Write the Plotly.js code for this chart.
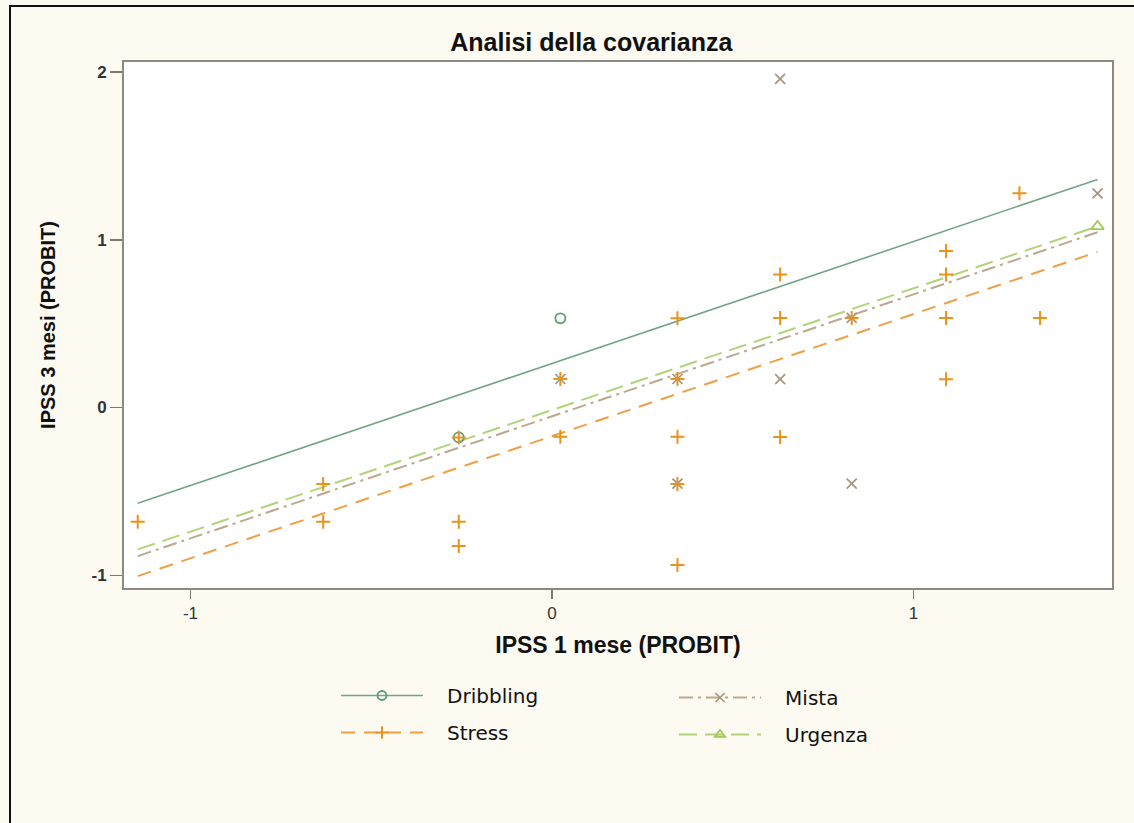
<!DOCTYPE html>
<html>
<head>
<meta charset="utf-8">
<script src="https://cdn.plot.ly/plotly-3.0.1.min.js"></script>
<style>
  html, body { margin: 0; padding: 0; background: #fdfaf2; overflow: hidden; }
  #wrap { position: relative; width: 1134px; height: 823px; }
  #chart { position: absolute; left: 0; top: 0; width: 1134px; height: 823px; }
  #frame { position: absolute; left: 9px; top: 5px; width: 1140px; height: 840px;
           border-top: 2px solid #111; border-left: 2px solid #111; pointer-events: none; }
</style>
</head>
<body>
<div id="wrap"><div id="chart"></div><div id="frame"></div></div>
<script>
// ---- Data (probit scale) ----
const dribblingX = [-0.258, 0.023];
const dribblingY = [-0.178, 0.532];

const stressX = [-1.146, -0.633, -0.633, -0.258, -0.258, -0.258, 0.023, 0.023, 0.347, 0.347, 0.347, 0.347, 0.347, 0.631, 0.631, 0.631, 0.829, 1.090, 1.090, 1.090, 1.090, 1.293, 1.350];
const stressY = [-0.681, -0.456, -0.681, -0.178, -0.681, -0.826, 0.170, -0.174, 0.532, 0.170, -0.174, -0.456, -0.939, 0.793, 0.534, -0.176, 0.534, 0.933, 0.793, 0.534, 0.169, 1.277, 0.534];

const mistaX = [0.023, 0.347, 0.347, 0.631, 0.631, 0.829, 0.829, 1.509];
const mistaY = [0.170, 0.170, -0.454, 1.959, 0.169, 0.534, -0.454, 1.277];

const urgenzaX = [1.509];
const urgenzaY = [1.080];

// fitted (ANCOVA) lines, endpoints
const fitX = [-1.146, 1.509];
const dribblingFit = [-0.571, 1.360];
const stressFit = [-1.005, 0.928];
const mistaFit = [-0.886, 1.045];
const urgenzaFit = [-0.846, 1.080];

const groupNames = ['Dribbling', 'Stress', 'Mista', 'Urgenza'];
const xTicks = [-1, 0, 1];
const yTicks = [-1, 0, 1, 2];

// ---- Styles ----
const C = {
  Dribbling: {line: '#72a585', mark: '#5e9a74', dash: 'solid', sym: 'circle-open', size: 10, lw: 1.8},
  Stress:    {line: '#eea046', mark: '#e8931c', dash: '14px,9px', sym: 'cross-thin', size: 10, lw: 2},
  Mista:     {line: '#b9a98f', mark: '#a8947a', dash: '14px,5px,3px,5px', sym: 'x-thin', size: 10, lw: 1.7},
  Urgenza:   {line: '#b3d27a', mark: '#a3c85a', dash: '18px,8px', sym: 'triangle-up-open', size: 11, lw: 1.8}
};
const legendOf = {Dribbling: 'legend', Stress: 'legend', Mista: 'legend2', Urgenza: 'legend2'};

const pts = {
  Dribbling: [dribblingX, dribblingY, dribblingFit],
  Stress: [stressX, stressY, stressFit],
  Mista: [mistaX, mistaY, mistaFit],
  Urgenza: [urgenzaX, urgenzaY, urgenzaFit]
};

const traces = [];
// fitted lines (drawn first)
['Dribbling', 'Stress', 'Mista', 'Urgenza'].forEach(g => {
  traces.push({
    x: fitX, y: pts[g][2], mode: 'lines', showlegend: false, hoverinfo: 'skip',
    line: {color: C[g].line, width: g === 'Dribbling' ? 1.6 : 2, dash: C[g].dash}
  });
});
// data markers
['Dribbling', 'Mista', 'Stress', 'Urgenza'].forEach(g => {
  traces.push({
    x: pts[g][0], y: pts[g][1], mode: 'markers', showlegend: false, name: g,
    marker: {symbol: C[g].sym, size: C[g].size, color: C[g].mark,
             line: {color: C[g].mark, width: C[g].lw}}
  });
});
// legend entries (line + marker, as in the reference key)
const pad = '\u00a0\u00a0\u00a0';
groupNames.forEach(g => {
  traces.push({
    x: [null], y: [null], mode: 'lines+markers', name: pad + g, legend: legendOf[g],
    legendgroup: g,
    line: {color: C[g].line, width: g === 'Dribbling' ? 1.6 : 2, dash: C[g].dash},
    marker: {symbol: C[g].sym, size: 9, color: C[g].mark,
             line: {color: C[g].mark, width: C[g].lw}}
  });
});

const legendCommon = {
  orientation: 'v', xanchor: 'left', yanchor: 'top',
  bgcolor: 'rgba(0,0,0,0)', borderwidth: 0,
  font: {family: 'DejaVu Sans, Arial, sans-serif', size: 20, color: '#111'},
  itemwidth: 82, tracegroupgap: 8, itemclick: false
};

const layout = {
  width: 1134, height: 823,
  margin: {l: 124, r: 22, t: 62, b: 235},
  paper_bgcolor: '#fdfaf2',
  plot_bgcolor: '#ffffff',
  showlegend: true,
  title: {
    text: 'Analisi della covarianza',
    x: 0.473, xref: 'paper', xanchor: 'center',
    y: 1 - 42 / 823, yref: 'container', yanchor: 'middle',
    font: {family: 'Liberation Sans, Arial, sans-serif', size: 25, weight: 'bold', color: '#111'}
  },
  xaxis: {
    range: [-1.184, 1.549], tickvals: xTicks, ticktext: xTicks.map(String),
    showgrid: false, zeroline: false,
    showline: true, linecolor: '#8c8a82', linewidth: 2, mirror: true,
    ticks: 'outside', ticklen: 9, tickwidth: 1.5, tickcolor: '#7c7a72',
    tickfont: {family: 'Liberation Sans, Arial, sans-serif', size: 17, color: '#333'},
    title: {text: 'IPSS 1 mese (PROBIT)', standoff: 14,
            font: {family: 'Liberation Sans, Arial, sans-serif', size: 23, weight: 'bold', color: '#111'}}
  },
  yaxis: {
    range: [-1.076, 2.060], tickvals: yTicks, ticktext: yTicks.map(String),
    showgrid: false, zeroline: false,
    showline: true, linecolor: '#8c8a82', linewidth: 2, mirror: true,
    ticks: 'outside', ticklen: 12, tickwidth: 1.5, tickcolor: '#7c7a72',
    tickfont: {family: 'Liberation Sans, Arial, sans-serif', size: 17, weight: 'bold', color: '#333'},
    title: {text: 'IPSS 3 mesi (PROBIT)', standoff: 30,
            font: {family: 'Liberation Sans, Arial, sans-serif', size: 20, weight: 'bold', color: '#111'}}
  },
  legend: Object.assign({x: (336 - 124) / 988, y: (588 - 676) / 526}, legendCommon),
  legend2: Object.assign({x: (674 - 124) / 988, y: (588 - 678) / 526}, legendCommon)
};

Plotly.newPlot('chart', traces, layout, {displayModeBar: false, staticPlot: true});
</script>
</body>
</html>
